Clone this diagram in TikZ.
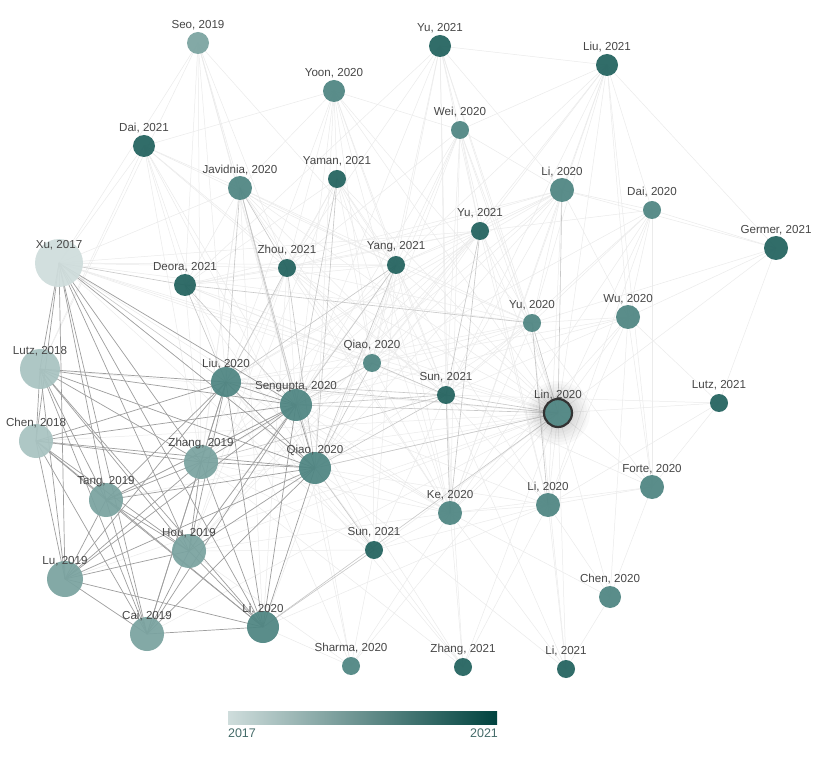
\documentclass[tikz,border=0pt]{standalone}
\usepackage{fontspec}
\setmainfont{Liberation Sans}
\definecolor{c17}{HTML}{CFDDDC}
\definecolor{c18}{HTML}{A8C3C1}
\definecolor{c19}{HTML}{7AA3A0}
\definecolor{c20}{HTML}{4E8582}
\definecolor{c21}{HTML}{22625E}
\definecolor{cend}{HTML}{00433F}
\definecolor{lbltext}{HTML}{474747}
\definecolor{bartext}{HTML}{456B69}
\tikzset{
  paper/.style={circle, inner sep=0pt, draw=none, fill opacity=0.93},
  faint/.style={draw=black!8, line width=0.5pt},
  mid/.style={draw=black!22, line width=0.6pt},
  strong/.style={draw=black!38, line width=0.7pt},
  lbl/.style={text=lbltext, font=\fontsize{11.6}{12}\selectfont, inner sep=0pt},
  barlbl/.style={text=bartext, font=\fontsize{12.5}{12.5}\selectfont, inner sep=0pt}
}
\def\papers{seo/198/43/11/c19/{Seo, 2019},
yuA/440/46/11/c21/{Yu, 2021},
liuB/607/65/11/c21/{Liu, 2021},
yoon/334/91/11/c20/{Yoon, 2020},
wei/460/130/9/c20/{Wei, 2020},
daiA/144/146/11/c21/{Dai, 2021},
jav/240/188/12/c20/{Javidnia, 2020},
yaman/337/179/9/c21/{Yaman, 2021},
liA/562/190/12/c20/{Li, 2020},
daiB/652/210/9/c20/{Dai, 2020},
yuB/480/231/9/c21/{Yu, 2021},
germer/776/248/12/c21/{Germer, 2021},
xu/59/263/24/c17/{Xu, 2017},
zhou/287/268/9/c21/{Zhou, 2021},
yang/396/265/9/c21/{Yang, 2021},
deora/185/285/11/c21/{Deora, 2021},
yuC/532/323/9/c20/{Yu, 2020},
wu/628/317/12/c20/{Wu, 2020},
qiaoA/372/363/9/c20/{Qiao, 2020},
lutz18/40/369/20/c18/{Lutz, 2018},
liu20/226/382/15/c20/{Liu, 2020},
seng/296/405/16/c20/{Sengupta, 2020},
sunA/446/395/9/c21/{Sun, 2021},
lutz21/719/403/9/c21/{Lutz, 2021},
chen18/36/441/17/c18/{Chen, 2018},
zhang19/201/462/17/c19/{Zhang, 2019},
qiaoB/315/468/16/c20/{Qiao, 2020},
tang/106/500/17/c19/{Tang, 2019},
ke/450/513/12/c20/{Ke, 2020},
liB/548/505/12/c20/{Li, 2020},
forte/652/487/12/c20/{Forte, 2020},
hou/189/551/17/c19/{Hou, 2019},
sunB/374/550/9/c21/{Sun, 2021},
lu/65/579/18/c19/{Lu, 2019},
chen20/610/597/11/c20/{Chen, 2020},
cai/147/634/17/c19/{Cai, 2019},
liC/263/627/16/c20/{Li, 2020},
sharma/351/666/9/c20/{Sharma, 2020},
zhangB/463/667/9/c21/{Zhang, 2021},
liD/566/669/9/c21/{Li, 2021}}
\begin{document}
\begin{tikzpicture}[x=1pt,y=-1pt]
\useasboundingbox (0,0) rectangle (825,759);
\fill[white] (0,0) rectangle (825,759);
% coordinates
\foreach \n/\x/\y/\r/\c/\t in \papers { \coordinate (\n) at (\x,\y); }
\coordinate (lin) at (558,413);
% faint edges
\foreach \a/\b in {
seo/xu, seo/deora, seo/liu20, seo/seng, seo/qiaoB, seo/lutz18, seo/jav, seo/zhou, seo/zhang19, seo/yang,
yuA/wei, yuA/yuB, yuA/yuC, yuA/lin, yuA/sunA, yuA/qiaoA, yuA/yang, yuA/liA, yuA/liuB, yuA/ke, yuA/seng, yuA/zhou, yuA/deora,
liuB/wei, liuB/liA, liuB/yuB, liuB/yuC, liuB/lin, liuB/daiB, liuB/wu, liuB/forte, liuB/ke, liuB/sunA, liuB/qiaoA, liuB/germer, liuB/yang,
yoon/yaman, yoon/jav, yoon/zhou, yoon/yang, yoon/seng, yoon/qiaoB, yoon/liu20, yoon/sunA, yoon/lin, yoon/wei, yoon/daiA, yoon/qiaoA, yoon/ke, yoon/yuC,
wei/yuB, wei/yuC, wei/lin, wei/sunA, wei/qiaoA, wei/liA, wei/ke, wei/yang, wei/seng, wei/liB, wei/qiaoB, wei/zhou,
daiA/deora, daiA/liu20, daiA/xu, daiA/jav, daiA/seng, daiA/qiaoB, daiA/zhou, daiA/sunA, daiA/lutz18, daiA/zhang19, daiA/yang,
jav/deora, jav/qiaoA, jav/sunA, jav/lin, jav/yang, jav/ke, jav/hou, jav/zhang19, jav/liC, jav/yuC,
yaman/zhou, yaman/yang, yaman/qiaoA, yaman/sunA, yaman/liu20, yaman/ke, yaman/lin, yaman/deora, yaman/hou, yaman/liB,
liA/yuB, liA/yuC, liA/sunA, liA/qiaoA, liA/liB, liA/ke, liA/yang, liA/zhou, liA/seng, liA/qiaoB, liA/daiB, liA/wu, liA/deora, liA/liu20,
daiB/yuC, daiB/lin, daiB/wu, daiB/liB, daiB/forte, daiB/sunA, daiB/ke, daiB/yuB, daiB/qiaoA, daiB/germer,
yuB/yuC, yuB/lin, yuB/qiaoA, yuB/yang, yuB/zhou, yuB/seng, yuB/qiaoB, yuB/liu20, yuB/liB, yuB/deora, yuB/zhang19, yuB/hou,
germer/lin, germer/yuC, germer/wu, germer/lutz21, germer/liA,
xu/zhou, xu/yang, xu/sunA, xu/lin, xu/qiaoA, xu/jav, xu/yuB, xu/ke, xu/sunB, xu/yuC,
zhou/seng, zhou/qiaoA, zhou/sunA, zhou/yang, zhou/lin, zhou/ke, zhou/zhang19, zhou/hou, zhou/liC, zhou/deora,
yang/qiaoA, yang/sunA, yang/lin, yang/ke, yang/zhang19, yang/hou, yang/liC, yang/sunB, yang/deora,
deora/qiaoB, deora/qiaoA, deora/sunA, deora/lin, deora/zhang19,
yuC/sunA, yuC/qiaoA, yuC/seng, yuC/liu20, yuC/qiaoB, yuC/ke, yuC/wu, yuC/forte, yuC/zhou, yuC/yang,
wu/lin, wu/liB, wu/forte, wu/ke, wu/sunA, wu/qiaoA, wu/seng, wu/chen20,
qiaoA/liu20, qiaoA/lin, qiaoA/ke, qiaoA/zhang19, qiaoA/sunB, qiaoA/hou,
lin/liB, lin/ke, lin/forte, lin/qiaoB, lin/lutz21, lin/chen20, lin/liD, lin/zhangB, lin/sunB, lin/sharma, lin/zhang19, lin/hou, lin/tang, lin/lutz18, lin/chen18, lin/lu, lin/cai,
lutz21/forte, lutz21/liB, lutz21/sunA, lutz21/wu,
forte/liB, forte/ke, forte/sunA,
ke/liB, ke/seng, ke/qiaoB, ke/liu20, ke/sunB, ke/zhangB, ke/sharma, ke/hou, ke/zhang19,
liB/sunA, liB/seng, liB/qiaoB, liB/liC, liB/chen20, liB/liD, liB/zhangB, liB/sunB,
sunB/seng, sunB/liu20, sunB/hou, sunB/zhang19, sunB/sharma, sunB/sunA,
chen20/ke, chen20/liD, chen20/forte,
sharma/liC, sharma/qiaoB, sharma/seng, sharma/hou, sharma/liu20,
zhangB/sunA, zhangB/seng, zhangB/qiaoB, zhangB/liu20, zhangB/zhang19,
liD/ke, liD/sunA, liD/qiaoB, liD/yuC}
  { \draw[faint] (\a) -- (\b); }
% medium edges
\foreach \a/\b in {
liu20/sunA, liu20/deora, liu20/zhou, seng/qiaoA, seng/sunA, seng/lin, qiaoB/qiaoA, qiaoB/yang, qiaoB/zhou,
sunA/ke, sunA/qiaoA, sunA/lin, deora/seng, jav/zhou, jav/seng, jav/qiaoB, jav/liu20, yaman/qiaoB, yaman/seng,
yang/liu20, yang/seng, yuB/sunA, yuB/ke, liA/lin, yuC/lin, yuC/liB, liC/lin, liC/sunB, qiaoB/sunB,
zhang19/sunA, liu20/lin, deora/yuC, xu/liu20, xu/deora, qiaoB/sunA, qiaoB/lin}
  { \draw[mid] (\a) -- (\b); }
% strong edges
\foreach \a/\b in {
xu/lutz18, xu/chen18, xu/tang, xu/lu, xu/cai, xu/hou, xu/liC, xu/zhang19, xu/qiaoB, xu/seng,
lutz18/chen18, lutz18/tang, lutz18/lu, lutz18/cai, lutz18/hou, lutz18/liC, lutz18/liu20, lutz18/seng, lutz18/qiaoB, lutz18/zhang19,
chen18/tang, chen18/lu, chen18/cai, chen18/hou, chen18/zhang19, chen18/qiaoB, chen18/liu20, chen18/seng, chen18/liC,
tang/lu, tang/cai, tang/hou, tang/liC, tang/zhang19, tang/qiaoB, tang/liu20, tang/seng,
lu/cai, lu/hou, lu/liC, lu/zhang19, lu/qiaoB, lu/seng, lu/liu20,
cai/liC, cai/hou, cai/zhang19, cai/liu20, cai/seng, cai/qiaoB,
hou/liC, hou/zhang19, hou/liu20, hou/seng, hou/qiaoB,
liC/zhang19, liC/liu20, liC/seng, liC/qiaoB,
zhang19/liu20, zhang19/seng, zhang19/qiaoB,
liu20/seng, liu20/qiaoB, seng/qiaoB}
  { \draw[strong] (\a) -- (\b); }
% glow around Lin
\foreach \s in {32,29,...,16} { \fill[black, opacity=0.025] (lin) circle (\s pt); }
% nodes
\foreach \n/\x/\y/\r/\c/\t in \papers {
  \node[paper, fill=\c, minimum size=\r*2pt] (n\n) at (\n) {};
}
\node[paper, fill=c20, minimum size=28pt, draw=black!80, draw opacity=1, line width=2.2pt] (nlin) at (lin) {};
% labels
\foreach \n/\x/\y/\r/\c/\t in \papers {
  \node[lbl] (l\n) at (\x,\y-18) {\t};
}
\node[lbl] (llin) at (558,395) {Lin, 2020};
% colour bar
\shade[left color=c17, right color=cend] (228,711) rectangle (497,724);
\node[barlbl] (b17) at (242,733) {2017};
\node[barlbl] (b21) at (484,733) {2021};
\end{tikzpicture}
\end{document}
